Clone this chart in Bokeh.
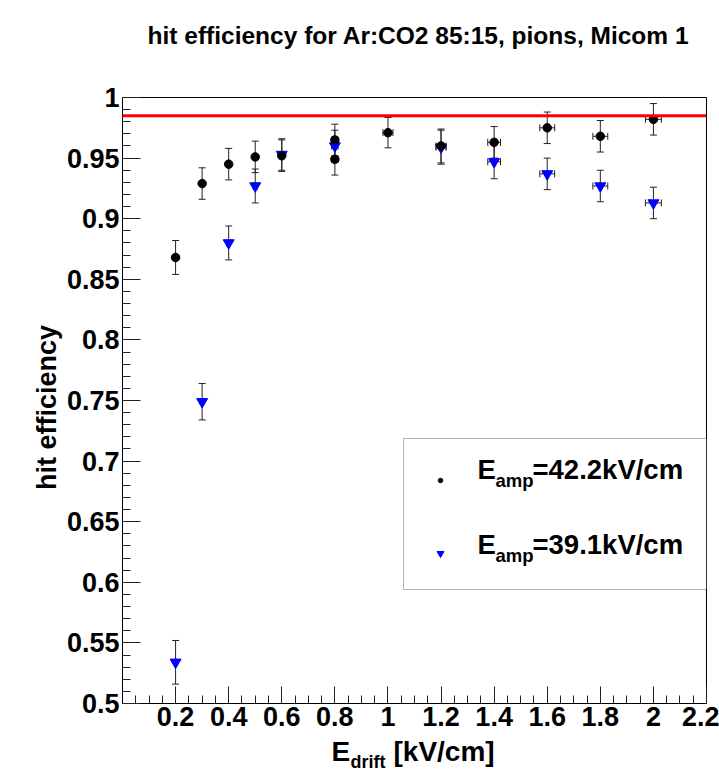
import math
import numpy as np
from bokeh.plotting import figure
from bokeh.models import (Range1d, FixedTicker, CustomJSTickFormatter, Whisker, TeeHead,
                          ColumnDataSource, Span, BoxAnnotation, Label)
from bokeh.core.properties import value
from bokeh.embed import file_html
from bokeh.resources import INLINE

# ---------------- data ----------------
title_text = "hit efficiency for Ar:CO2 85:15, pions, Micom 1"
y_title = "hit efficiency"
x_title_main, x_title_sub, x_title_unit = "E", "drift", "[kV/cm]"

drift_42 = [0.2, 0.3, 0.4, 0.5, 0.6, 0.8, 0.8, 1.0, 1.2, 1.4, 1.6, 1.8, 2.0]
eff_42 = [0.868, 0.929, 0.945, 0.951, 0.952, 0.965, 0.949, 0.971, 0.960, 0.963, 0.975, 0.968, 0.982]
err_42 = [0.014, 0.013, 0.013, 0.013, 0.013, 0.013, 0.013, 0.0125, 0.014, 0.013, 0.013, 0.013, 0.013]
xerr_42 = [0.003, 0.005, 0.006, 0.008, 0.009, 0.012, 0.012, 0.019, 0.019, 0.024, 0.028, 0.028, 0.030]

drift_39 = [0.2, 0.3, 0.4, 0.5, 0.6, 0.8, 1.2, 1.4, 1.6, 1.8, 2.0]
eff_39 = [0.534, 0.749, 0.880, 0.927, 0.953, 0.960, 0.959, 0.947, 0.937, 0.927, 0.913]
err_39 = [0.018, 0.015, 0.014, 0.014, 0.013, 0.013, 0.014, 0.014, 0.013, 0.013, 0.013]
xerr_39 = [0.003, 0.005, 0.006, 0.008, 0.009, 0.012, 0.019, 0.024, 0.028, 0.028, 0.030]

reference_eff = 0.985

x_major_ticks = [0.2, 0.4, 0.6, 0.8, 1.0, 1.2, 1.4, 1.6, 1.8, 2.0, 2.2]
y_major_ticks = [0.5, 0.55, 0.6, 0.65, 0.7, 0.75, 0.8, 0.85, 0.9, 0.95, 1.0]

legend_labels = ["=42.2kV/cm", "=39.1kV/cm"]

# ---------------- layout helpers ----------------
W, H = 719, 778
X0, X1 = 0.0, 2.2
Y0, Y1 = 0.5, 1.0
FL, FR, FT, FB = 122, 706, 97, 703   # frame edges in canvas pixels


def dx(px):
    return X0 + (px - FL) / (FR - FL) * (X1 - X0)


def dy(py):
    return Y1 - (py - FT) / (FB - FT) * (Y1 - Y0)


FONT = "Liberation Sans"

p = figure(width=W, height=H, output_backend="svg", toolbar_location=None,
           x_range=Range1d(X0, X1), y_range=Range1d(Y0, Y1),
           min_border_left=FL, min_border_right=W - FR,
           min_border_top=FT, min_border_bottom=H - FB)
p.xgrid.visible = False
p.ygrid.visible = False
p.outline_line_color = "black"
p.outline_line_width = 1
p.background_fill_color = "white"
p.border_fill_color = "white"

fmt = CustomJSTickFormatter(code="return tick.toFixed(2).replace(/0+$/, '').replace(/\\.$/, '');")

x_minor = [round(v, 2) for v in np.arange(0.05, 2.2001, 0.05)]
y_minor = [round(v, 2) for v in np.arange(0.5, 1.0001, 0.01)]

p.xaxis.ticker = FixedTicker(ticks=x_major_ticks, minor_ticks=x_minor)
p.yaxis.ticker = FixedTicker(ticks=y_major_ticks, minor_ticks=y_minor)
for ax, maj in ((p.xaxis, 17), (p.yaxis, 18)):
    ax.formatter = fmt
    ax.major_tick_in = maj
    ax.major_tick_out = 0
    ax.minor_tick_in = 8
    ax.minor_tick_out = 0
    ax.major_tick_line_color = "#222222"
    ax.minor_tick_line_color = "#222222"
    ax.axis_line_color = "black"
    ax.major_label_text_font = FONT
    ax.major_label_text_font_style = "bold"
    ax.major_label_text_font_size = "27px"
    ax.major_label_text_color = "black"
    ax.axis_label = None
p.xaxis.major_label_standoff = 3
p.yaxis.major_label_standoff = 3

# reference line
p.add_layout(Span(location=reference_eff, dimension="width", line_color="#ff0000", line_width=3))


# ---------------- data series ----------------
def add_series(xs, ys, ey, ex, marker, size, color):
    src = ColumnDataSource(dict(
        x=xs, y=ys,
        lo=[a - b for a, b in zip(ys, ey)], hi=[a + b for a, b in zip(ys, ey)],
        xl=[a - b for a, b in zip(xs, ex)], xh=[a + b for a, b in zip(xs, ex)],
    ))
    for dim, base, lo, hi in (("height", "x", "lo", "hi"), ("width", "y", "xl", "xh")):
        p.add_layout(Whisker(base=base, lower=lo, upper=hi, source=src, dimension=dim,
                             line_color="#222222", line_width=1,
                             lower_head=TeeHead(size=7, line_color="#222222", line_width=1),
                             upper_head=TeeHead(size=7, line_color="#222222", line_width=1)))
    p.scatter("x", "y", source=src, marker=marker, size=size,
              fill_color=color, line_color=color)


add_series(drift_39, eff_39, err_39, xerr_39, "inverted_triangle", 11, "#0000ff")
add_series(drift_42, eff_42, err_42, xerr_42, "circle", 8.5, "black")

# ---------------- legend ----------------
p.add_layout(BoxAnnotation(left=dx(403), right=X1, top=dy(438), bottom=dy(589),
                           fill_color="white", fill_alpha=1.0, line_color="black",
                           line_width=1, level="underlay"))
key_src = ColumnDataSource(dict(x=[dx(440), dx(440)], y=[dy(480), dy(553)],
                                m=["circle", "inverted_triangle"], s=[4.5, 7],
                                c=["black", "#0000ff"]))
p.scatter("x", "y", source=key_src, marker="m", size="s", fill_color="c", line_color="c")


def lab(text, px, py, size, **kw):
    p.add_layout(Label(x=dx(px), y=dy(py), text=text, text_font=FONT,
                       text_font_style="bold", text_font_size=size,
                       text_color="black", text_baseline="alphabetic", **kw))


for txt, yy in zip(legend_labels, (469, 544)):
    lab("E", 477, yy, "27.5px")
    lab("amp", 495, yy + 10.5, "18.5px")
    lab(txt, 532, yy, "27.5px")


# texts outside the frame: text glyphs at overlay level (not clipped to the frame)
def outer_text(text, px, py, size, align="left", angle=0.0):
    p.text(x=[dx(px)], y=[dy(py)], text=[text], angle=angle,
           text_font=value(FONT), text_font_style="bold", text_font_size=value(size),
           text_color="black", text_align=align, text_baseline="alphabetic",
           level="overlay")


outer_text(title_text, 418, 35, "24.5px", align="center")
outer_text(x_title_main, 331, 751, "28px")
outer_text(x_title_sub, 350, 761, "18px")
outer_text(x_title_unit, 393, 751, "28px")
outer_text(y_title, 46, 407, "27px", align="center", angle=math.pi / 2)

open("out.html", "w").write(file_html(p, INLINE))
